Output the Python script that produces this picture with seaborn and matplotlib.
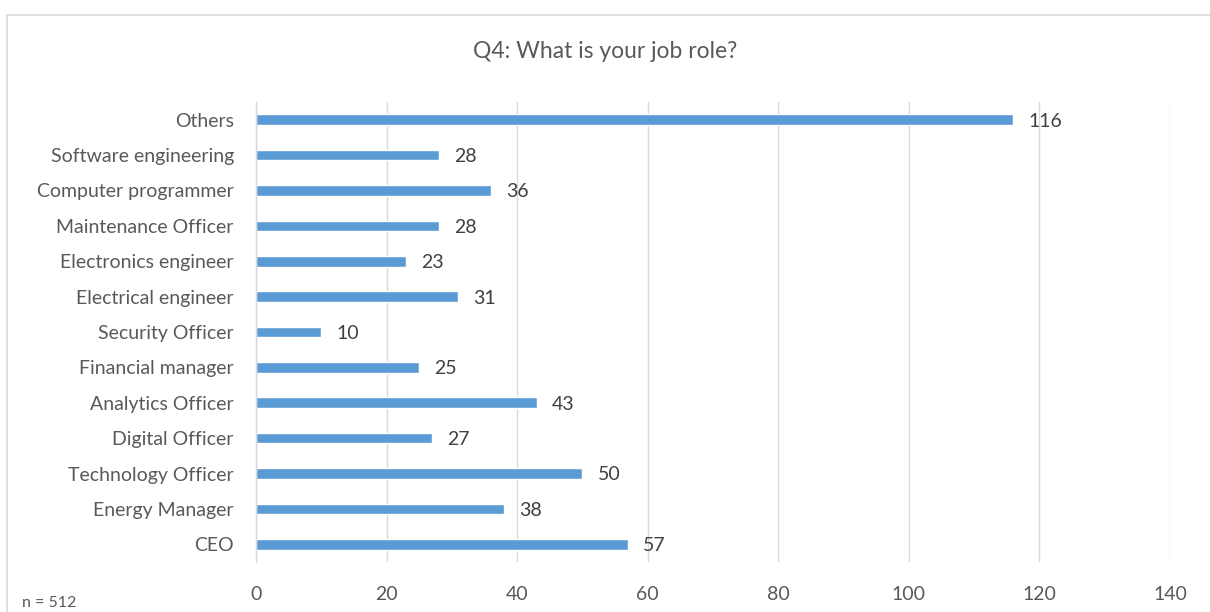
import matplotlib
matplotlib.use("Agg")
import matplotlib.pyplot as plt
import seaborn as sns
import pandas as pd
from matplotlib.patches import Rectangle

roles = [
    "Others",
    "Software engineering",
    "Computer programmer",
    "Maintenance Officer",
    "Electronics engineer",
    "Electrical engineer",
    "Security Officer",
    "Financial manager",
    "Analytics Officer",
    "Digital Officer",
    "Technology Officer",
    "Energy Manager",
    "CEO",
]
counts = [116, 28, 36, 28, 23, 31, 10, 25, 43, 27, 50, 38, 57]
x_ticks = [0, 20, 40, 60, 80, 100, 120, 140]

title = "Q4: What is your job role?"
note = "n = 512"

sns.set_theme(style="white")
plt.rcParams["font.family"] = ["Lato", "DejaVu Sans"]

text_color = "#595959"
bar_color = "#5B9BD5"

df = pd.DataFrame({"role": roles, "count": counts})

fig = plt.figure(figsize=(12.10, 6.12), dpi=100)
ax = fig.add_axes([256 / 1210, 1 - 562 / 612, (1170 - 256) / 1210, (562 - 102) / 612])

sns.barplot(data=df, x="count", y="role", order=roles, color=bar_color,
            width=0.3, saturation=1, ax=ax)

ax.set_xlim(0, 140)
ax.set_xticks(x_ticks)
ax.set_xticklabels([str(t) for t in x_ticks])
ax.xaxis.grid(True, color="#d9d9d9", linewidth=1)
ax.set_axisbelow(True)
for s in ["top", "right", "bottom"]:
    ax.spines[s].set_visible(False)
ax.spines["left"].set_color("#d9d9d9")
ax.spines["left"].set_linewidth(1)
ax.set_xlabel("")
ax.set_ylabel("")
ax.tick_params(axis="both", length=0, labelsize=14, colors=text_color)
ax.tick_params(axis="x", pad=17)
ax.tick_params(axis="y", pad=16)

for i, v in enumerate(counts):
    ax.text(v + 2.3, i + 0.04, str(v), va="center", ha="left",
            fontsize=14, color="#404040")

fig.text(0.5, 1 - 51 / 612, title, ha="center", va="center",
         fontsize=16.5, color=text_color)
fig.text(22 / 1210, 1 - 603 / 612, note, ha="left", va="center",
         fontsize=11.5, color=text_color)

# chart area border
fig.patches.append(Rectangle((7 / 1210, -0.05), 1.1, 1 - 15 / 612 + 0.05,
                             transform=fig.transFigure, fill=False,
                             edgecolor="#d9d9d9", linewidth=1.2))

fig.savefig("out.png", dpi=100)
